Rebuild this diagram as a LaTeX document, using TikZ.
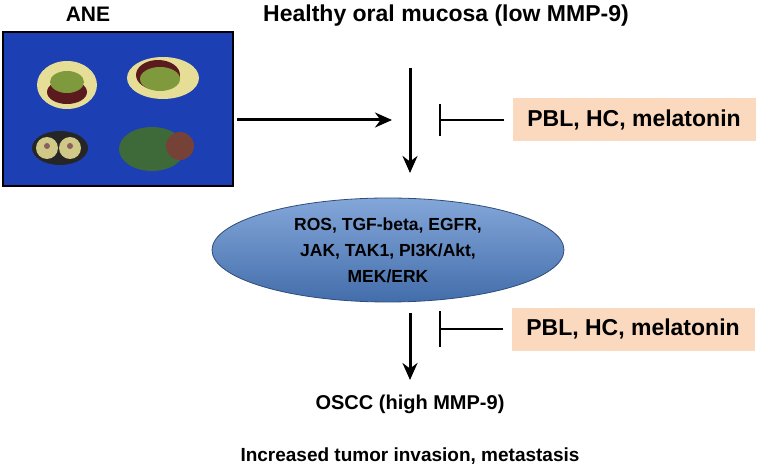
\documentclass[tikz,border=0pt]{standalone}
\usepackage{fontspec}
\setmainfont{Liberation Sans}
\usetikzlibrary{shapes.geometric,arrows.meta}
\definecolor{photoblue}{HTML}{1C3FB4}
\definecolor{peach}{HTML}{FBD9BE}
\definecolor{ellblue}{HTML}{4F81C9}
\definecolor{nutyellow}{HTML}{E6DE96}
\definecolor{nutgreen}{HTML}{7F9A3C}
\definecolor{nutbrown}{HTML}{5A1A1E}
\definecolor{leafgreen}{HTML}{3E6A3A}
\begin{document}
\begin{tikzpicture}[x=1pt,y=-1pt,
  box/.style={fill=peach,draw=none,minimum width=243pt,minimum height=43pt,font=\bfseries\fontsize{23}{26}\selectfont},
  arr/.style={-{Stealth[length=17pt,width=15pt]},line width=3pt},
  inh/.style={line width=1.6pt}]
\useasboundingbox (0,0) rectangle (760,470);
\fill[white] (0,0) rectangle (760,470);
% photo
\node[font=\bfseries\fontsize{21}{24}\selectfont] (ane) at (88,14) {ANE};
\fill[photoblue] (3,32) rectangle (233,186);
\draw[line width=2.5pt] (3,32) rectangle (233,186);
% simplified nuts
\fill[nutyellow] (67,85) ellipse (30pt and 24pt);
\fill[nutbrown] (67,92) ellipse (20pt and 12pt);
\fill[nutgreen] (67,82) ellipse (17pt and 11pt);
\fill[nutyellow] (163,78) ellipse (36pt and 21pt);
\fill[nutbrown] (158,75) ellipse (22pt and 15pt);
\fill[nutgreen] (160,79) ellipse (20pt and 12pt);
\fill[black!85] (60,148) ellipse (28pt and 17pt);
\fill[nutyellow!90!black] (47,148) circle (11pt);
\fill[nutyellow!90!black] (70,148) circle (11pt);
\fill[nutbrown!70] (47,146) circle (3pt);
\fill[nutbrown!70] (70,146) circle (3pt);
\fill[leafgreen] (152,149) ellipse (33pt and 22pt);
\fill[nutbrown!80!nutyellow] (180,146) ellipse (14pt and 14pt);
% texts
\node[font=\bfseries\fontsize{23}{26}\selectfont] (healthy) at (446,16) {Healthy oral mucosa (low MMP-9)};
\coordinate (hs) at (237,120);
\coordinate (he) at (392,120);
\draw[arr] (hs) -- (he);
\coordinate (v1s) at (410,68);
\node[ellipse,draw=ellblue!60!black,line width=0.8pt,top color=ellblue!70!white,bottom color=ellblue!85!black,
  minimum width=352pt,minimum height=104pt,align=center,font=\bfseries\fontsize{17.5}{26}\selectfont] (ell) at (388,250)
  {ROS, TGF-beta, EGFR,\\JAK, TAK1, PI3K/Akt,\\MEK/ERK};
\coordinate (v1e) at (410,173);
\draw[arr] (v1s) -- (v1e);
\node[box] (b1) at (634,120) {PBL, HC, melatonin};
\coordinate (i1) at (440,120);
\draw[inh] (b1.west)++(-8,0) -- (i1);
\draw[inh] (440,104) -- (440,136);
\coordinate (v2s) at (410,313);
\coordinate (v2e) at (410,380);
\draw[arr] (v2s) -- (v2e);
\node[box] (b2) at (633,329) {PBL, HC, melatonin};
\coordinate (i2) at (440,329);
\draw[inh] (b2.west)++(-8,0) -- (i2);
\draw[inh] (440,311) -- (440,347);
\node[font=\bfseries\fontsize{20}{24}\selectfont] (oscc) at (410,404) {OSCC (high MMP-9)};
\node[font=\bfseries\fontsize{19}{22}\selectfont] (inc) at (410,456) {Increased tumor invasion, metastasis};
\end{tikzpicture}
\end{document}
